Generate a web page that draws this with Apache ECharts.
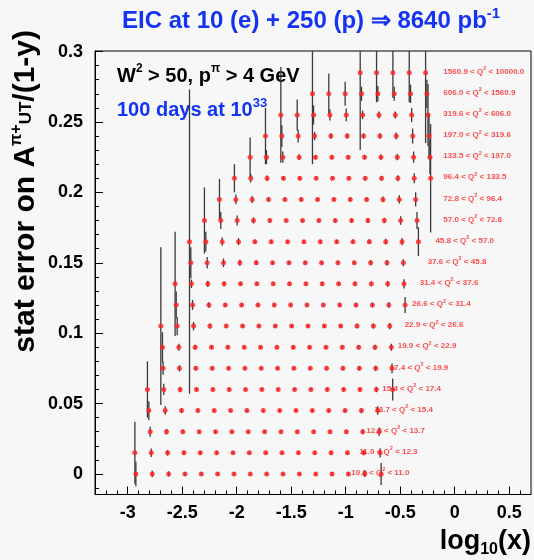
<!DOCTYPE html>
<html><head><meta charset="utf-8">
<script src="https://cdn.jsdelivr.net/npm/echarts@6/dist/echarts.min.js"></script>
<style>html,body{margin:0;padding:0;background:#f7f7f7}#c{width:534px;height:560px}</style>
</head><body><div id="c"></div>
<script>
// Q^2 bin edges (one row of points per bin)
const q2Edges = ['10.0','11.0','12.3','13.7','15.4','17.4','19.9','22.9','26.6','31.4','37.6','45.8','57.0','72.8','96.4','133.5','197.0','319.6','606.0','1560.9','10000.0'];
// vertical offset of each Q^2 row
const rowOffset = [0, 0.015, 0.03, 0.045, 0.06, 0.075, 0.09, 0.105, 0.12, 0.135, 0.15, 0.165, 0.18, 0.195, 0.21, 0.225, 0.24, 0.255, 0.27, 0.285];
// log10(x) bin centres
const binLog10x = [-2.925,-2.775,-2.625,-2.475,-2.325,-2.175,-2.025,-1.875,-1.725,-1.575,-1.425,-1.275,-1.125,-0.975,-0.825,-0.675,-0.525,-0.375,-0.225,-0.075];
// small horizontal shift of each row's points
const rowXShift = [0,-0.009,-0.019,-0.031,-0.044,-0.050,-0.056,-0.071,-0.080,-0.090,-0.096,-0.108,-0.121,-0.133,-0.146,-0.152,-0.161,-0.170,-0.180,-0.192];
// first populated x bin of each row
const rowFirstBin = [0,0,1,1,1,2,2,2,3,3,4,4,5,6,7,8,9,10,12,15];
// stat errors per row, starting at rowFirstBin
const row00 = [0.0087,0.0024,0.0018,0.0014,0.0012,0.0012,0.0011,0.0011,0.0011,0.0011,0.0012,0.0012,0.0013,0.0015,0.0022,0.0078];
const row01 = [0.022,0.003,0.002,0.0015,0.0013,0.0012,0.0011,0.0011,0.0011,0.0011,0.0012,0.0012,0.0013,0.0014,0.0018,0.0033];
const row02 = [0.0035,0.002,0.0015,0.0013,0.0012,0.0011,0.0011,0.0011,0.0011,0.0012,0.0012,0.0013,0.0015,0.0018,0.003];
const row03 = [0.0067,0.003,0.0018,0.0014,0.0012,0.0011,0.0011,0.0011,0.0011,0.0012,0.0012,0.0013,0.0015,0.0019,0.003];
const row04 = [0.02,0.004,0.002,0.0015,0.0013,0.0012,0.0011,0.0011,0.0011,0.0012,0.0012,0.0013,0.0014,0.0016,0.002,0.0078];
const row05 = [0.0046,0.0022,0.0016,0.0013,0.0012,0.0011,0.0011,0.0011,0.0012,0.0012,0.0013,0.0014,0.0016,0.0019,0.0035];
const row06 = [0.0107,0.0025,0.0017,0.0014,0.0012,0.0011,0.0011,0.0011,0.0012,0.0012,0.0013,0.0014,0.0016,0.0018,0.0025];
const row07 = [0.056,0.0065,0.003,0.0018,0.0014,0.0012,0.0012,0.0012,0.0012,0.0012,0.0013,0.0014,0.0016,0.0018,0.0022];
const row08 = [0.0095,0.0035,0.002,0.0015,0.0013,0.0012,0.0012,0.0012,0.0012,0.0013,0.0014,0.0015,0.0017,0.002,0.0057];
const row09 = [0.037,0.003,0.0022,0.0016,0.0013,0.0012,0.0012,0.0012,0.0012,0.0013,0.0014,0.0015,0.0017,0.002,0.0033];
const row10 = [0.011,0.004,0.003,0.0022,0.0016,0.0013,0.0012,0.0012,0.0013,0.0014,0.0015,0.0017,0.002,0.0025];
const row11 = [0.108,0.007,0.003,0.0025,0.0016,0.0013,0.0012,0.0012,0.0013,0.0014,0.0015,0.0017,0.002,0.0025,0.0103];
const row12 = [0.0235,0.006,0.0035,0.0022,0.0015,0.0013,0.0013,0.0013,0.0014,0.0015,0.0017,0.002,0.003,0.006];
const row13 = [0.0145,0.0035,0.0025,0.0016,0.0014,0.0013,0.0013,0.0014,0.0015,0.0017,0.002,0.003,0.005];
const row14 = [0.01,0.003,0.002,0.0016,0.0014,0.0013,0.0013,0.0014,0.0015,0.0017,0.0022,0.0035,0.0385];
const row15 = [0.014,0.005,0.004,0.002,0.0016,0.0015,0.0015,0.0016,0.0018,0.0022,0.004,0.012];
const row16 = [0.02,0.0077,0.0045,0.003,0.002,0.0018,0.0018,0.002,0.0025,0.0053,0.016];
const row17 = [0.034,0.011,0.0068,0.004,0.0045,0.003,0.0025,0.0025,0.005,0.022];
const row18 = [0.05,0.0144,0.0085,0.005,0.0055,0.005,0.0065,0.01];
const row19 = [0.055,0.021,0.018,0.021,0.05];
const rowErrors = [row00,row01,row02,row03,row04,row05,row06,row07,row08,row09,row10,row11,row12,row13,row14,row15,row16,row17,row18,row19];
// anchor (log10 x) of each row's Q^2 label
const rowLabelX = [-0.949,-0.875,-0.811,-0.738,-0.664,-0.597,-0.523,-0.459,-0.391,-0.321,-0.248,-0.177,-0.104,-0.104,-0.104,-0.104,-0.104,-0.104,-0.104,-0.104];
// axis ticks
const xTickLabels = [-3,-2.5,-2,-1.5,-1,-0.5,0,0.5];
const xMinorTicks = [-3.2,-3.1,-2.9,-2.8,-2.7,-2.6,-2.4,-2.3,-2.2,-2.1,-1.9,-1.8,-1.7,-1.6,-1.4,-1.3,-1.2,-1.1,-0.9,-0.8,-0.7,-0.6,-0.4,-0.3,-0.2,-0.1,0.1,0.2,0.3,0.4,0.6];
const yTickLabels = [0,0.05,0.1,0.15,0.2,0.25,0.3];
const yMinorTicks = [-0.01,0.01,0.02,0.03,0.04,0.06,0.07,0.08,0.09,0.11,0.12,0.13,0.14,0.16,0.17,0.18,0.19,0.21,0.22,0.23,0.24,0.26,0.27,0.28,0.29];

const FONT = 'Liberation Sans, Arial, Helvetica, sans-serif';
const RED = '#ff1f1f';
const BLUE = '#1434f2';

const barData = [], dotData = [], labelData = [];
rowErrors.forEach((errs, k) => {
  errs.forEach((e, i) => {
    const x = binLog10x[rowFirstBin[k] + i] + rowXShift[k];
    barData.push([x, rowOffset[k], e]);
    dotData.push([x, rowOffset[k]]);
  });
  labelData.push({
    value: [rowLabelX[k], rowOffset[k]],
    label: { formatter: '{a|' + q2Edges[k] + ' < Q}{s|2}{a| < ' + q2Edges[k + 1] + '}' }
  });
});

const chart = echarts.init(document.getElementById('c'), null, { renderer: 'canvas' });
const axisCommon = { type: 'value', splitLine: { show: false } };
chart.setOption({
  animation: false,
  backgroundColor: '#f7f7f7',
  grid: { left: 95, right: 3, top: 51, bottom: 65.5, show: true, borderColor: '#000', borderWidth: 1, backgroundColor: 'transparent' },
  xAxis: [
    Object.assign({}, axisCommon, {
      min: -3.3, max: 0.7, position: 'bottom',
      axisLine: { show: true, onZero: false, lineStyle: { color: '#000', width: 1 } },
      axisTick: { show: true, inside: true, length: 8, customValues: xTickLabels, lineStyle: { color: '#000' } },
      axisLabel: { customValues: xTickLabels, fontSize: 18, fontWeight: 'bold', fontFamily: FONT, color: '#000', margin: 10 }
    }),
    Object.assign({}, axisCommon, {
      min: -3.3, max: 0.7, position: 'bottom',
      axisLine: { show: false, onZero: false },
      axisTick: { show: true, inside: true, length: 4, customValues: xMinorTicks, lineStyle: { color: '#000' } },
      axisLabel: { show: false }
    })
  ],
  yAxis: [
    Object.assign({}, axisCommon, {
      min: -0.0146, max: 0.3004, position: 'left',
      axisLine: { show: true, onZero: false, lineStyle: { color: '#000', width: 1 } },
      axisTick: { show: true, inside: true, length: 8, customValues: yTickLabels, lineStyle: { color: '#000' } },
      axisLabel: { customValues: yTickLabels, fontSize: 18, fontWeight: 'bold', fontFamily: FONT, color: '#000', margin: 12 }
    }),
    Object.assign({}, axisCommon, {
      min: -0.0146, max: 0.3004, position: 'left',
      axisLine: { show: false, onZero: false },
      axisTick: { show: true, inside: true, length: 4, customValues: yMinorTicks, lineStyle: { color: '#000' } },
      axisLabel: { show: false }
    })
  ],
  graphic: [
    { type: 'text', x: 122, y: 21, silent: true, style: {
      text: '{a|EIC at 10 (e) + 250 (p) \u21D2 8640 pb}{s|-1}',
      align: 'left', verticalAlign: 'middle', textAlign: 'left', textVerticalAlign: 'middle',
      rich: { a: { fontSize: 24, fontWeight: 'bold', fontFamily: FONT, fill: BLUE, color: BLUE, lineHeight: 30 },
              s: { fontSize: 15, fontWeight: 'bold', fontFamily: FONT, fill: BLUE, color: BLUE, verticalAlign: 'top' } } } },
    { type: 'text', x: 117, y: 76, silent: true, style: {
      text: '{a|W}{s|2}{a| > 50, p}{s|\u03C0}{a| > 4 GeV}',
      align: 'left', verticalAlign: 'middle', textAlign: 'left', textVerticalAlign: 'middle',
      rich: { a: { fontSize: 20, fontWeight: 'bold', fontFamily: FONT, fill: '#000', color: '#000', lineHeight: 26 },
              s: { fontSize: 12, fontWeight: 'bold', fontFamily: FONT, fill: '#000', color: '#000', verticalAlign: 'top' } } } },
    { type: 'text', x: 117, y: 110, silent: true, style: {
      text: '{a|100 days at 10}{s|33}',
      align: 'left', verticalAlign: 'middle', textAlign: 'left', textVerticalAlign: 'middle',
      rich: { a: { fontSize: 20, fontWeight: 'bold', fontFamily: FONT, fill: BLUE, color: BLUE, lineHeight: 26 },
              s: { fontSize: 13, fontWeight: 'bold', fontFamily: FONT, fill: BLUE, color: BLUE, verticalAlign: 'top' } } } },
    { type: 'text', x: 531, y: 542, silent: true, style: {
      text: '{a|log}{b|10}{a|(x)}',
      align: 'right', verticalAlign: 'middle', textAlign: 'right', textVerticalAlign: 'middle',
      rich: { a: { fontSize: 27, fontWeight: 'bold', fontFamily: FONT, fill: '#000', color: '#000', lineHeight: 31 },
              b: { fontSize: 16, fontWeight: 'bold', fontFamily: FONT, fill: '#000', color: '#000', verticalAlign: 'bottom' } } } },
    { type: 'text', x: 26, y: 30, rotation: Math.PI / 2, silent: true, style: {
      text: '{a|stat error on A}{s|\u03C0+}{u|UT}{a|/(1-y)}',
      align: 'right', verticalAlign: 'middle', textAlign: 'right', textVerticalAlign: 'middle',
      rich: { a: { fontSize: 30, fontWeight: 'bold', fontFamily: FONT, fill: '#000', color: '#000', lineHeight: 34 },
              s: { fontSize: 16, fontWeight: 'bold', fontFamily: FONT, fill: '#000', color: '#000', verticalAlign: 'top' },
              u: { fontSize: 17, fontWeight: 'bold', fontFamily: FONT, fill: '#000', color: '#000', verticalAlign: 'middle' } } } }
  ],
  series: [
    {
      type: 'custom', name: 'errors', xAxisIndex: 0, yAxisIndex: 0, silent: true, z: 2,
      dimensions: ['x', 'y', 'err'], encode: { x: 0, y: 1 },
      data: barData,
      renderItem: function (params, api) {
        const x = api.value(0), y = api.value(1), e = api.value(2);
        const p1 = api.coord([x, y - e]);
        const p2 = api.coord([x, y + e]);
        const cs = params.coordSys;
        const top = cs.y, bot = cs.y + cs.height;
        return { type: 'line', shape: { x1: p1[0], y1: Math.min(bot, p1[1]), x2: p2[0], y2: Math.max(top, p2[1]) },
                 style: { stroke: '#3a3a3a', lineWidth: 1.3 } };
      }
    },
    {
      type: 'scatter', name: 'points', xAxisIndex: 0, yAxisIndex: 0, silent: true, z: 3,
      symbol: 'circle', symbolSize: 5, itemStyle: { color: RED }, data: dotData
    },
    {
      type: 'scatter', name: 'labels', xAxisIndex: 0, yAxisIndex: 0, silent: true, z: 4,
      symbolSize: 0, data: labelData,
      label: { show: true, position: 'right', distance: 0, offset: [0, -1],
        rich: { a: { fontSize: 8, fontWeight: 'bold', fontFamily: FONT, color: RED, lineHeight: 12 },
                s: { fontSize: 5.5, fontWeight: 'bold', fontFamily: FONT, color: RED, verticalAlign: 'top' } } }
    }
  ]
});
</script></body></html>
